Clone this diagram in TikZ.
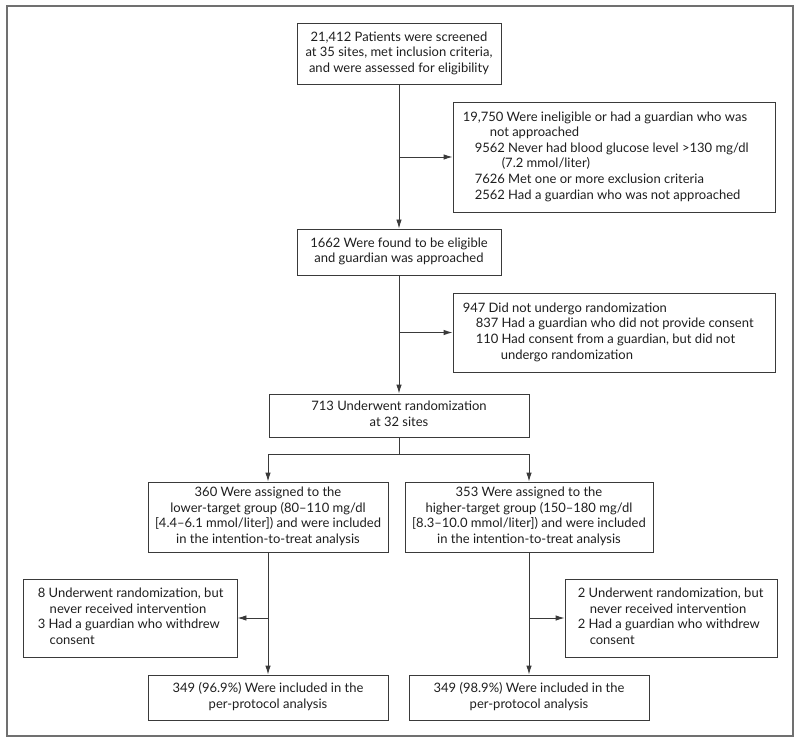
\documentclass[tikz,border=0pt]{standalone}
\usepackage{fontspec}
\setmainfont{Lato}
\usetikzlibrary{arrows.meta,calc}
\definecolor{linegray}{HTML}{3A3A3A}
\definecolor{framegray}{HTML}{707070}
\definecolor{txt}{HTML}{1E1E1E}
\newcommand{\ctext}[1]{\begin{tabular}{@{}c@{}}#1\end{tabular}}
\newcommand{\ltext}[1]{\begin{tabular}{@{}l@{}}#1\end{tabular}}
\begin{document}
\begin{tikzpicture}[x=1pt,y=-1pt,
  box/.style={draw=linegray, line width=0.9pt, inner sep=0pt,
    font=\fontsize{13}{15.6}\selectfont, text=txt},
  lab/.style={inner sep=0pt, anchor=west,
    font=\fontsize{13}{15.6}\selectfont, text=txt},
  arr/.style={draw=linegray, line width=0.9pt, -{Latex[length=9pt,width=5.5pt]}},
  ln/.style={draw=linegray, line width=0.9pt}]
\useasboundingbox (0,0) rectangle (800,743);
\draw[framegray, line width=1.1pt] (7,6) rectangle (793,736);

% main column
\node[box, minimum width=204, minimum height=61] (b1) at (399,53.5)
  {\ctext{21,412 Patients were screened\\at 35 sites, met inclusion criteria,\\and were assessed for eligibility}};
\node[box, minimum width=322, minimum height=110,
  label={[lab, xshift=10pt]west:{\ltext{19,750 Were ineligible or had a guardian who was\\
    \hspace*{27pt}not approached\\
    \hspace*{12pt}9562 Never had blood glucose level >130 mg/dl\\
    \hspace*{39pt}(7.2 mmol/liter)\\
    \hspace*{12pt}7626 Met one or more exclusion criteria\\
    \hspace*{12pt}2562 Had a guardian who was not approached}}}] (b2) at (614,157) {};
\node[box, minimum width=204, minimum height=46] (b3) at (399,252)
  {\ctext{1662 Were found to be eligible\\and guardian was approached}};
\node[box, minimum width=322, minimum height=79,
  label={[lab, xshift=10pt]west:{\ltext{947 Did not undergo randomization\\
    \hspace*{13pt}837 Had a guardian who did not provide consent\\
    \hspace*{13pt}110 Had consent from a guardian, but did not\\
    \hspace*{38pt}undergo randomization}}}] (b4) at (614,332.5) {};
\node[box, minimum width=260, minimum height=43] (b5) at (399,415.5)
  {\ctext{713 Underwent randomization\\at 32 sites}};

% groups
\node[box, minimum width=240, minimum height=70] (b6) at (268,517)
  {\ctext{360 Were assigned to the\\lower-target group (80--110 mg/dl\\{[}4.4--6.1 mmol/liter]) and were included\\in the intention-to-treat analysis}};
\node[box, minimum width=248, minimum height=70] (b7) at (529,517)
  {\ctext{353 Were assigned to the\\higher-target group (150--180 mg/dl\\{[}8.3--10.0 mmol/liter]) and were included\\in the intention-to-treat analysis}};

\node[box, minimum width=214, minimum height=78,
  label={[lab, xshift=15pt]west:{\ltext{8 Underwent randomization, but\\
    \hspace*{12pt}never received intervention\\
    3 Had a guardian who withdrew\\
    \hspace*{12pt}consent}}}] (b8) at (130,618) {};
\node[box, minimum width=212, minimum height=78,
  label={[lab, xshift=13pt]west:{\ltext{2 Underwent randomization, but\\
    \hspace*{12pt}never received intervention\\
    2 Had a guardian who withdrew\\
    \hspace*{12pt}consent}}}] (b10) at (671,618) {};

\node[box, minimum width=240, minimum height=45] (b9) at (268,697.5)
  {\ctext{349 (96.9\%) Were included in the\\per-protocol analysis}};
\node[box, minimum width=240, minimum height=45] (b11) at (529,697.5)
  {\ctext{349 (98.9\%) Were included in the\\per-protocol analysis}};

% junctions
\coordinate (j1) at (b2.west -| b1.south);
\coordinate (j2) at (b4.west -| b3.south);
\coordinate (j3) at ($(b5.south)+(0,17)$);
\coordinate (jl) at (j3 -| b6.north);
\coordinate (jr) at (j3 -| b7.north);
\coordinate (j4) at (b8.east -| b6.south);
\coordinate (j5) at (b10.west -| b7.south);

\draw[arr] (b1.south) -- (b3.north);
\draw[arr] (j1) -- (b2.west);
\draw[arr] (b3.south) -- (b5.north);
\draw[arr] (j2) -- (b4.west);
\draw[ln] (b5.south) -- (j3);
\draw[ln] (jl) -- (jr);
\draw[arr] (jl) -- (b6.north);
\draw[arr] (jr) -- (b7.north);
\draw[arr] (b6.south) -- (b9.north);
\draw[arr] (j4) -- (b8.east);
\draw[arr] (b7.south) -- (b11.north);
\draw[arr] (j5) -- (b10.west);
\end{tikzpicture}
\end{document}
